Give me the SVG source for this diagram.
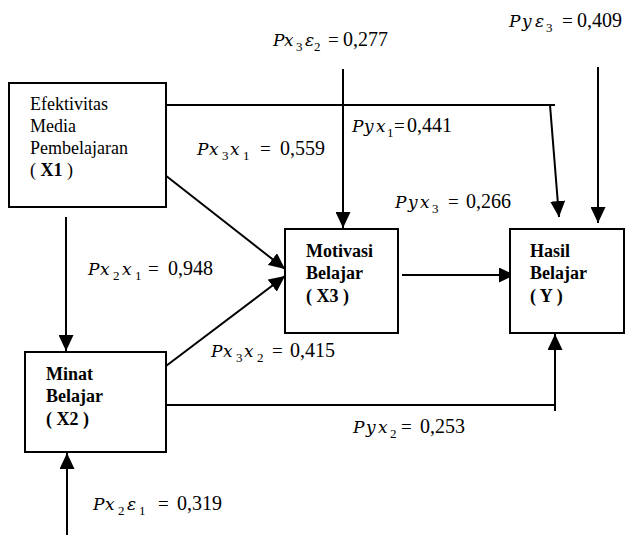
<svg xmlns="http://www.w3.org/2000/svg" width="626" height="535" viewBox="0 0 626 535">
<defs>
<marker id="ah" markerUnits="userSpaceOnUse" markerWidth="16" markerHeight="15" refX="16" refY="7.5" orient="auto">
<path d="M0,0 L16,7.5 L0,15 z" fill="#000"/>
</marker>
<style>
.box{fill:#fff;stroke:#000;stroke-width:2}
.t{font-family:"Liberation Serif","Times New Roman",serif;font-size:18px;fill:#000}
.b{font-weight:bold}
.ln{fill:none;stroke:#000;stroke-width:2}
.m{font-family:"Liberation Serif","Times New Roman",serif;font-size:19px;fill:#000}
.v{font-family:"DejaVu Serif","Liberation Serif",serif;font-style:italic;font-size:17px}
.s{font-size:13px}
.e{font-size:19px}
.n{font-size:20px}
</style>
</defs>
<rect width="626" height="535" fill="#fff"/>
<g id="connectors">
<line class="ln" x1="66" y1="217" x2="66" y2="351" marker-end="url(#ah)"/>
<line class="ln" x1="67" y1="535" x2="67" y2="453" marker-end="url(#ah)"/>
<line class="ln" x1="165" y1="175" x2="285" y2="269" marker-end="url(#ah)"/>
<line class="ln" x1="166" y1="366" x2="285" y2="276" marker-end="url(#ah)"/>
<line class="ln" x1="402" y1="275" x2="515" y2="275" marker-end="url(#ah)"/>
<line class="ln" x1="343" y1="69" x2="343" y2="228" marker-end="url(#ah)"/>
<polyline class="ln" points="166,105 555,105"/>
<line class="ln" x1="550" y1="105" x2="559" y2="217" marker-end="url(#ah)"/>
<line class="ln" x1="598" y1="67" x2="598" y2="223" marker-end="url(#ah)"/>
<polyline class="ln" points="166,405 555,405"/>
<line class="ln" x1="555" y1="411" x2="555" y2="334" marker-end="url(#ah)"/>
</g>
<g id="X1">
<rect class="box" x="9" y="83" width="157" height="124"/>
<text class="t" x="30" y="110">Efektivitas</text>
<text class="t" x="30" y="132">Media</text>
<text class="t" x="30" y="154">Pembelajaran</text>
<text class="t" x="30" y="176">( <tspan class="b">X1</tspan> )</text>
</g>
<g id="X2">
<rect class="box" x="25" y="352" width="141" height="100"/>
<text class="t b" x="46" y="380">Minat</text>
<text class="t b" x="46" y="402">Belajar</text>
<text class="t b" x="46" y="425">( X2 )</text>
</g>
<g id="X3">
<rect class="box" x="285" y="229" width="113" height="104"/>
<text class="t b" x="306" y="257">Motivasi</text>
<text class="t b" x="306" y="279">Belajar</text>
<text class="t b" x="306" y="302">( X3 )</text>
</g>
<g id="Y">
<rect class="box" x="510" y="229" width="114" height="104"/>
<text class="t b" x="530" y="257">Hasil</text>
<text class="t b" x="530" y="279">Belajar</text>
<text class="t b" x="530" y="302">( Y )</text>
</g>
<g id="labels">
<text class="m"><tspan class="v" x="273" y="46">P</tspan><tspan class="v" x="284" y="46">x</tspan><tspan class="s" x="296" y="51">3</tspan><tspan class="v" x="305" y="46">ε</tspan><tspan class="s" x="314" y="51">2</tspan><tspan class="e" x="328" y="46">=</tspan><tspan class="n" x="343" y="46">0,277</tspan></text>
<text class="m"><tspan class="v" x="509" y="27">P</tspan><tspan class="v" x="522" y="27">y</tspan><tspan class="v" x="535" y="27">ε</tspan><tspan class="s" x="546" y="32">3</tspan><tspan class="e" x="562" y="27">=</tspan><tspan class="n" x="577" y="27">0,409</tspan></text>
<text class="m"><tspan class="v" x="197" y="155">P</tspan><tspan class="v" x="209" y="155">x</tspan><tspan class="s" x="222" y="160">3</tspan><tspan class="v" x="230" y="155">x</tspan><tspan class="s" x="243" y="160">1</tspan><tspan class="e" x="260" y="155">=</tspan><tspan class="n" x="280" y="155">0,559</tspan></text>
<text class="m"><tspan class="v" x="352" y="132">P</tspan><tspan class="v" x="364" y="132">y</tspan><tspan class="v" x="376" y="132">x</tspan><tspan class="s" x="387" y="137">1</tspan><tspan class="e" x="394" y="132">=</tspan><tspan class="n" x="407" y="132">0,441</tspan></text>
<text class="m"><tspan class="v" x="395" y="208">P</tspan><tspan class="v" x="408" y="208">y</tspan><tspan class="v" x="420" y="208">x</tspan><tspan class="s" x="432" y="213">3</tspan><tspan class="e" x="448" y="208">=</tspan><tspan class="n" x="466" y="208">0,266</tspan></text>
<text class="m"><tspan class="v" x="88" y="275">P</tspan><tspan class="v" x="100" y="275">x</tspan><tspan class="s" x="113" y="280">2</tspan><tspan class="v" x="122" y="275">x</tspan><tspan class="s" x="135" y="280">1</tspan><tspan class="e" x="148" y="275">=</tspan><tspan class="n" x="168" y="275">0,948</tspan></text>
<text class="m"><tspan class="v" x="211" y="357">P</tspan><tspan class="v" x="223" y="357">x</tspan><tspan class="s" x="236" y="362">3</tspan><tspan class="v" x="244" y="357">x</tspan><tspan class="s" x="257" y="362">2</tspan><tspan class="e" x="272" y="357">=</tspan><tspan class="n" x="290" y="357">0,415</tspan></text>
<text class="m"><tspan class="v" x="353" y="433">P</tspan><tspan class="v" x="366" y="433">y</tspan><tspan class="v" x="378" y="433">x</tspan><tspan class="s" x="390" y="438">2</tspan><tspan class="e" x="401" y="433">=</tspan><tspan class="n" x="420" y="433">0,253</tspan></text>
<text class="m"><tspan class="v" x="93" y="510">P</tspan><tspan class="v" x="105" y="510">x</tspan><tspan class="s" x="118" y="515">2</tspan><tspan class="v" x="127" y="510">ε</tspan><tspan class="s" x="139" y="515">1</tspan><tspan class="e" x="158" y="510">=</tspan><tspan class="n" x="177" y="510">0,319</tspan></text>
</g>
</svg>
